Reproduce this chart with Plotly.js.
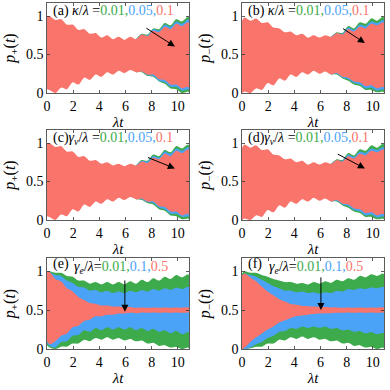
<!DOCTYPE html>
<html><head><meta charset="utf-8">
<script src="https://cdn.plot.ly/plotly-3.0.1.min.js"></script>
<style>html,body{margin:0;padding:0;background:#fff}#chart{width:390px;height:390px}</style>
</head><body><div id="chart"></div>
<script>
// time grid (λt) at alternating envelope peaks / cusps
const tGrid = [0,0.2,0.64,1.08,1.52,1.96,2.4,2.84,3.28,3.72,4.16,4.6,5.04,5.48,5.92,6.36,6.8,7.24,7.68,8.12,8.56,9.0,9.44,9.88,10.32,10.76,10.85];
// late part of grid (where green/blue become visible in a-d)
const tLate = [6.8,7.24,7.68,8.12,8.56,9.0,9.44,9.88,10.32,10.76,10.85];

// panel (a) p+ , kappa
const aRedTop = [1.0,1.0,0.95,0.96,0.89,0.89,0.82,0.83,0.77,0.78,0.72,0.75,0.70,0.73,0.69,0.73,0.70,0.76,0.74,0.81,0.79,0.86,0.83,0.90,0.87,0.92,0.91];
const aRedBot = [0.05,0.04,0.0,0.07,0.05,0.14,0.11,0.20,0.17,0.24,0.21,0.27,0.24,0.29,0.26,0.30,0.27,0.28,0.24,0.24,0.18,0.17,0.11,0.11,0.06,0.08,0.07];
const aBlueTop = [0.70,0.76,0.75,0.83,0.81,0.89,0.86,0.93,0.90,0.96,0.95];
const aBlueBot = [0.27,0.28,0.23,0.22,0.16,0.14,0.08,0.08,0.03,0.05,0.04];
const aGreenTop = [0.70,0.77,0.76,0.84,0.83,0.91,0.88,0.96,0.93,0.99,0.98];
const aGreenBot = [0.27,0.27,0.22,0.21,0.15,0.12,0.06,0.05,0.0,0.02,0.01];

// panel (b) p- , kappa
const bRedTop = [0.94,0.98,0.94,0.97,0.91,0.92,0.85,0.84,0.79,0.80,0.75,0.77,0.72,0.75,0.72,0.75,0.73,0.78,0.76,0.83,0.80,0.86,0.84,0.90,0.88,0.92,0.91];
const bRedBot = [0.0,0.02,0.0,0.06,0.04,0.13,0.10,0.19,0.16,0.24,0.21,0.27,0.24,0.29,0.25,0.28,0.24,0.26,0.21,0.20,0.15,0.14,0.09,0.10,0.06,0.08,0.07];
const bBlueTop = [0.73,0.78,0.77,0.85,0.82,0.89,0.87,0.93,0.91,0.95,0.94];
const bBlueBot = [0.24,0.25,0.20,0.18,0.13,0.11,0.06,0.07,0.03,0.05,0.04];
const bGreenTop = [0.73,0.79,0.78,0.87,0.84,0.92,0.90,0.97,0.94,0.99,0.98];
const bGreenBot = [0.24,0.24,0.19,0.16,0.11,0.09,0.04,0.04,0.01,0.02,0.01];

// panel (c) p+ , gamma_v
const cRedTop = [1.0,1.0,0.95,0.96,0.89,0.89,0.82,0.83,0.77,0.78,0.73,0.75,0.71,0.73,0.70,0.73,0.71,0.76,0.74,0.81,0.79,0.86,0.83,0.90,0.87,0.92,0.91];
const cRedBot = [0.05,0.04,0.0,0.07,0.05,0.14,0.11,0.20,0.17,0.24,0.21,0.27,0.24,0.29,0.26,0.30,0.27,0.28,0.24,0.24,0.18,0.17,0.11,0.11,0.06,0.08,0.07];
const cBlueTop = [0.71,0.77,0.76,0.83,0.81,0.89,0.86,0.93,0.90,0.95,0.94];
const cBlueBot = [0.27,0.27,0.23,0.22,0.16,0.14,0.08,0.08,0.04,0.05,0.04];
const cGreenTop = [0.71,0.78,0.77,0.85,0.83,0.91,0.88,0.96,0.93,0.98,0.97];
const cGreenBot = [0.27,0.26,0.22,0.20,0.14,0.12,0.06,0.05,0.01,0.02,0.01];

// panel (d) p- , gamma_v
const dRedTop = [0.94,0.98,0.94,0.97,0.91,0.92,0.85,0.84,0.79,0.80,0.75,0.77,0.72,0.75,0.72,0.75,0.73,0.78,0.76,0.83,0.80,0.86,0.84,0.90,0.88,0.92,0.91];
const dRedBot = [0.0,0.02,0.0,0.06,0.04,0.13,0.10,0.19,0.16,0.24,0.21,0.27,0.24,0.29,0.25,0.28,0.24,0.26,0.21,0.20,0.15,0.14,0.09,0.10,0.06,0.08,0.07];
const dBlueTop = [0.73,0.78,0.77,0.85,0.82,0.89,0.87,0.93,0.91,0.95,0.94];
const dBlueBot = [0.24,0.25,0.20,0.18,0.13,0.11,0.06,0.07,0.03,0.05,0.04];
const dGreenTop = [0.73,0.79,0.78,0.87,0.84,0.92,0.90,0.97,0.94,0.99,0.98];
const dGreenBot = [0.24,0.24,0.19,0.16,0.11,0.09,0.04,0.04,0.01,0.02,0.01];

// panel (e) p+ , gamma_e
const eRedTop = [1.0,0.99,0.90,0.87,0.78,0.74,0.67,0.63,0.59,0.58,0.56,0.56,0.545,0.545,0.535,0.54,0.53,0.535,0.53,0.535,0.53,0.535,0.53,0.535,0.53,0.535,0.53];
const eRedBot = [0.10,0.06,0.10,0.17,0.20,0.28,0.30,0.36,0.38,0.42,0.42,0.44,0.44,0.455,0.455,0.465,0.46,0.47,0.465,0.47,0.465,0.47,0.465,0.47,0.465,0.47,0.47];
const eBlueTop = [1.0,0.99,0.95,0.94,0.88,0.85,0.80,0.79,0.75,0.76,0.73,0.75,0.72,0.74,0.72,0.75,0.73,0.76,0.74,0.77,0.75,0.78,0.76,0.79,0.77,0.80,0.79];
const eBlueBot = [0.08,0.04,0.02,0.09,0.10,0.17,0.18,0.24,0.22,0.27,0.24,0.28,0.25,0.28,0.25,0.28,0.24,0.27,0.23,0.26,0.22,0.24,0.20,0.23,0.19,0.22,0.21];
const eGreenTop = [1.0,1.0,0.98,0.98,0.94,0.93,0.88,0.88,0.84,0.86,0.83,0.86,0.83,0.86,0.83,0.87,0.84,0.89,0.86,0.91,0.88,0.93,0.90,0.95,0.92,0.96,0.95];
const eGreenBot = [0.05,0.02,0.0,0.03,0.03,0.07,0.07,0.12,0.10,0.14,0.12,0.15,0.12,0.14,0.11,0.13,0.10,0.11,0.07,0.08,0.04,0.05,0.02,0.03,0.0,0.02,0.01];

// panel (f) p- , gamma_e
const fRedTop = [0.95,0.97,0.92,0.87,0.80,0.74,0.69,0.64,0.61,0.58,0.57,0.555,0.55,0.545,0.54,0.54,0.535,0.535,0.53,0.535,0.53,0.535,0.53,0.535,0.53,0.535,0.53];
const fRedBot = [0.0,0.02,0.09,0.15,0.20,0.25,0.29,0.34,0.37,0.40,0.42,0.43,0.44,0.45,0.455,0.46,0.46,0.465,0.465,0.47,0.465,0.47,0.465,0.47,0.465,0.47,0.47];
const fBlueTop = [0.95,0.97,0.95,0.93,0.89,0.85,0.81,0.78,0.75,0.75,0.73,0.74,0.72,0.73,0.71,0.73,0.72,0.75,0.74,0.77,0.76,0.78,0.77,0.79,0.78,0.80,0.79];
const fBlueBot = [0.0,0.0,0.02,0.06,0.09,0.14,0.17,0.22,0.23,0.27,0.26,0.29,0.27,0.29,0.27,0.29,0.26,0.27,0.24,0.25,0.22,0.23,0.20,0.22,0.19,0.21,0.20];
const fGreenTop = [0.97,1.0,0.98,0.98,0.95,0.93,0.90,0.88,0.86,0.86,0.84,0.85,0.83,0.86,0.84,0.87,0.85,0.89,0.87,0.91,0.89,0.94,0.92,0.96,0.94,0.97,0.96];
const fGreenBot = [0.0,0.0,0.01,0.03,0.03,0.07,0.07,0.12,0.11,0.15,0.13,0.16,0.13,0.15,0.12,0.13,0.10,0.11,0.07,0.08,0.04,0.05,0.02,0.03,0.0,0.02,0.01];

const GREEN = '#3DAA4B', BLUE = '#4AA3F7', RED = '#F9746A';
const FONT = 'Liberation Serif';

function band(xs, top, bot, color, n) {
  const sfx = n === 1 ? '' : String(n);
  return {
    type: 'scatter', mode: 'lines',
    x: xs.concat(xs.slice().reverse()),
    y: top.concat(bot.slice().reverse()),
    fill: 'toself', fillcolor: color,
    line: {width: 0, color: color, shape: 'spline', smoothing: 0.8},
    xaxis: 'x' + sfx, yaxis: 'y' + sfx,
    hoverinfo: 'skip', showlegend: false
  };
}

const panels = [
  {n:1, g:[tLate,aGreenTop,aGreenBot], b:[tLate,aBlueTop,aBlueBot], r:[tGrid,aRedTop,aRedBot]},
  {n:2, g:[tLate,bGreenTop,bGreenBot], b:[tLate,bBlueTop,bBlueBot], r:[tGrid,bRedTop,bRedBot]},
  {n:3, g:[tLate,cGreenTop,cGreenBot], b:[tLate,cBlueTop,cBlueBot], r:[tGrid,cRedTop,cRedBot]},
  {n:4, g:[tLate,dGreenTop,dGreenBot], b:[tLate,dBlueTop,dBlueBot], r:[tGrid,dRedTop,dRedBot]},
  {n:5, g:[tGrid,eGreenTop,eGreenBot], b:[tGrid,eBlueTop,eBlueBot], r:[tGrid,eRedTop,eRedBot]},
  {n:6, g:[tGrid,fGreenTop,fGreenBot], b:[tGrid,fBlueTop,fBlueBot], r:[tGrid,fRedTop,fRedBot]}
];

const traces = [];
panels.forEach(p => {
  traces.push(band(p.g[0], p.g[1], p.g[2], GREEN, p.n));
  traces.push(band(p.b[0], p.b[1], p.b[2], BLUE, p.n));
  traces.push(band(p.r[0], p.r[1], p.r[2], RED, p.n));
});

const xDom = [[0.1205, 0.4846], [0.6205, 0.9846]];
const yDom = [[0.7615, 0.9923], [0.4359, 0.6667], [0.1051, 0.3385]];
const yTitles = ['<i>p</i><sub>+</sub>(<i>t</i>)', '<i>p</i><sub>\u2212</sub>(<i>t</i>)'];

const layout = {
  width: 390, height: 390,
  margin: {l: 0, r: 0, t: 0, b: 0},
  paper_bgcolor: '#fff', plot_bgcolor: '#fff',
  font: {family: FONT, size: 14, color: '#000'},
  showlegend: false, hovermode: false,
  annotations: []
};

for (let n = 1; n <= 6; n++) {
  const col = (n - 1) % 2, row = Math.floor((n - 1) / 2);
  const sfx = n === 1 ? '' : String(n);
  layout['xaxis' + sfx] = {
    domain: xDom[col], anchor: 'y' + sfx, range: [0, 10.85],
    tickvals: [0, 2, 4, 6, 8, 10], ticks: 'inside', ticklen: 3, tickwidth: 0.8, tickcolor: '#333',
    showline: true, linecolor: '#333', linewidth: 0.8, mirror: 'ticks',
    showgrid: false, zeroline: false,
    tickfont: {family: FONT, size: 14, color: '#000'},
    title: {text: '<i>λt</i>', font: {family: FONT, size: 15, color: '#000'}, standoff: 3}
  };
  layout['yaxis' + sfx] = {
    domain: yDom[row], anchor: 'x' + sfx, range: [0, 1.17],
    tickvals: [0, 0.5, 1], ticktext: ['0', '0.5', '1'],
    ticks: 'inside', ticklen: 3, tickwidth: 0.8, tickcolor: '#333',
    showline: true, linecolor: '#333', linewidth: 0.8, mirror: 'ticks',
    showgrid: false, zeroline: false,
    tickfont: {family: FONT, size: 14, color: '#000'},
    title: {text: yTitles[col], font: {family: FONT, size: 16, color: '#000'}, standoff: 6}
  };
}

const sp = (c, t) => "<span style='color:" + c + "'>" + t + "</span>";
const kappaVals = sp(GREEN, '0.01,') + sp(BLUE, '0.05,') + sp(RED, '0.1');
const gevVals = sp(GREEN, '0.01,') + sp(BLUE, '0.1,') + sp(RED, '0.5');
const labels = [
  {n: 1, text: '(a) <i>κ</i>/<i>λ</i> =' + kappaVals, x: 0.3, y: 1.065},
  {n: 2, text: '(b) <i>κ</i>/<i>λ</i> =' + kappaVals, x: 0.3, y: 1.065},
  {n: 3, text: '(c)<i>γ</i><sub><i>v</i></sub>/<i>λ</i> =' + kappaVals, x: 0.3, y: 1.065},
  {n: 4, text: '(d)<i>γ</i><sub><i>v</i></sub>/<i>λ</i> =' + kappaVals, x: 0.3, y: 1.065},
  {n: 5, text: '(e)', x: 0.3, y: 1.09},
  {n: 6, text: '(f)', x: 0.3, y: 1.09},
  {n: 5, text: '<i>γ</i><sub><i>e</i></sub>/<i>λ</i>=' + gevVals, x: 1.9, y: 1.05},
  {n: 6, text: '<i>γ</i><sub><i>e</i></sub>/<i>λ</i>=' + gevVals, x: 1.9, y: 1.05}
];
labels.forEach(l => {
  const sfx = l.n === 1 ? '' : String(l.n);
  layout.annotations.push({
    xref: 'x' + sfx, yref: 'y' + sfx, x: l.x, y: l.y, text: l.text,
    showarrow: false, xanchor: 'left', yanchor: 'middle',
    font: {family: FONT, size: 14, color: '#000'}
  });
});

const arrows = [
  {n: 1, x0: 7.48, y0: 0.855, x1: 9.77, y1: 0.605},
  {n: 2, x0: 7.6, y0: 0.85, x1: 9.39, y1: 0.65},
  {n: 3, x0: 7.6, y0: 0.82, x1: 9.77, y1: 0.67},
  {n: 4, x0: 7.2, y0: 0.867, x1: 9.39, y1: 0.67},
  {n: 5, x0: 5.95, y0: 0.9, x1: 5.95, y1: 0.48},
  {n: 6, x0: 6.03, y0: 0.94, x1: 6.03, y1: 0.5}
];
arrows.forEach(a => {
  const sfx = a.n === 1 ? '' : String(a.n);
  layout.annotations.push({
    xref: 'x' + sfx, yref: 'y' + sfx, axref: 'x' + sfx, ayref: 'y' + sfx,
    x: a.x1, y: a.y1, ax: a.x0, ay: a.y0, text: '',
    showarrow: true, arrowhead: 2, arrowsize: 1.4, arrowwidth: 1, arrowcolor: '#000'
  });
});

Plotly.newPlot('chart', traces, layout, {staticPlot: true, displayModeBar: false});
</script>
</body></html>
